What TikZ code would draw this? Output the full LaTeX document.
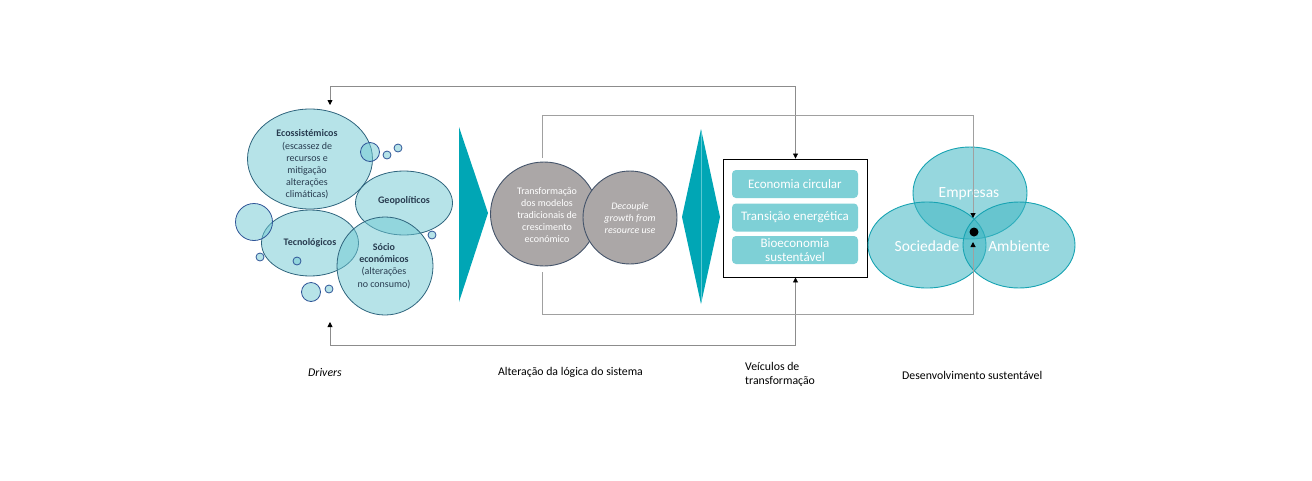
\documentclass[tikz,border=0pt]{standalone}
\usepackage{fontspec}
\setmainfont{Carlito}
\usetikzlibrary{shapes.geometric,arrows.meta}
\definecolor{tealA}{RGB}{0,166,181}
\definecolor{tealLine}{RGB}{90,200,210}
\definecolor{drvFill}{RGB}{110,200,210}
\definecolor{drvBorder}{RGB}{46,100,125}
\definecolor{smlBorder}{RGB}{47,85,151}
\definecolor{drvText}{RGB}{40,60,80}
\definecolor{grayFill}{RGB}{171,167,167}
\definecolor{grayBorder}{RGB}{68,84,106}
\definecolor{rectFill}{RGB}{126,208,214}
\definecolor{vennFill}{RGB}{64,182,195}
\definecolor{vennBorder}{RGB}{23,163,178}
\definecolor{lineGray}{RGB}{140,140,140}
\definecolor{lineGrayB}{RGB}{160,160,160}
\begin{document}
\begin{tikzpicture}[x=1pt,y=-1pt,
  drv/.style={ellipse,draw=drvBorder,line width=0.8pt,fill=drvFill,fill opacity=0.5,inner sep=0pt,outer sep=0pt},
  sml/.style={circle,draw=smlBorder,line width=0.8pt,fill=drvFill,fill opacity=0.5,inner sep=0pt,outer sep=0pt},
  drvtxt/.style={text=drvText,align=center,font=\fontsize{10}{12.2}\selectfont,inner sep=0pt},
  gcirc/.style={ellipse,draw=grayBorder,line width=0.9pt,fill=grayFill,inner sep=0pt,outer sep=0pt},
  gtxt/.style={text=white,align=center,font=\fontsize{10}{12}\selectfont,inner sep=0pt},
  vrect/.style={rectangle,rounded corners=4pt,fill=rectFill,minimum width=126pt,minimum height=28pt,inner sep=0pt,text=white,align=center,font=\fontsize{13}{14.5}\selectfont},
  venn/.style={ellipse,draw=vennBorder,line width=0.9pt,fill=vennFill,fill opacity=0.55,inner sep=0pt,outer sep=0pt},
  venntxt/.style={text=white,font=\fontsize{15.5}{17}\selectfont,inner sep=0pt},
  lbl/.style={text=black,font=\fontsize{11.8}{13.5}\selectfont,inner sep=0pt,align=left},
  conn/.style={draw=lineGray,line width=0.8pt},
  connB/.style={draw=lineGrayB,line width=1pt},
  tip/.style={-{Triangle[width=5pt,length=5pt,color=black]}},
  tips/.style={{Triangle[width=5pt,length=5pt,color=black]}-{Triangle[width=5pt,length=5pt,color=black]}}
]
\useasboundingbox (0,0) rectangle (1312,480);

% ---------- Drivers ----------
\node[drv,minimum width=125pt,minimum height=100pt] (eco) at (310,159) {};
\node[drv,minimum width=97pt,minimum height=64pt] (geo) at (404,203) {};
\node[drv,minimum width=97pt,minimum height=66pt] (tec) at (310,243) {};
\node[drv,minimum width=96pt,minimum height=98pt] (soc) at (385,266) {};
\node[sml,minimum size=37pt] (s0) at (254,222) {};
\node[sml,minimum size=19pt] (s1) at (370,152) {};
\node[sml,minimum size=8pt] (s2) at (387,155) {};
\node[sml,minimum size=8pt] (s3) at (398,148) {};
\node[sml,minimum size=8pt] (s4) at (432,235) {};
\node[sml,minimum size=8pt] (s5) at (260,257) {};
\node[sml,minimum size=8pt] (s6) at (297,261) {};
\node[sml,minimum size=19pt] (s7) at (311,292) {};
\node[sml,minimum size=8pt] (s8) at (329,289) {};

\node[drvtxt] (ecoT) at (307,164.5) {\textbf{Ecossistémicos}\\(escassez de\\recursos e\\mitigação\\alterações\\climáticas)};
\node[drvtxt] (geoT) at (404,201) {\textbf{Geopolíticos}};
\node[drvtxt] (tecT) at (310,243) {\textbf{Tecnológicos}};
\node[drvtxt] (socT) at (384,266) {\textbf{Sócio}\\\textbf{económicos}\\(alterações\\no consumo)};

% ---------- arrow shapes ----------
\fill[tealA] (459,127) -- (488,213) -- (459,302) -- cycle;
\fill[tealA] (682,217) -- (701,129) -- (720,217) -- (701,304) -- cycle;
\draw[tealLine,line width=0.5pt] (701,131) -- (701,302);

% ---------- gray circles ----------
\node[gcirc,minimum width=107pt,minimum height=104pt] (g1) at (544,214) {};
\node[gcirc,minimum width=94pt,minimum height=93pt] (g2) at (630,217.5) {};
\node[gtxt] (g1T) at (547,215) {Transformação\\dos modelos\\tradicionais de\\crescimento\\económico};
\node[gtxt] (g2T) at (630,218) {\textit{Decouple}\\\textit{growth from}\\\textit{resource use}};

% ---------- vehicles box ----------
\node[draw=black,line width=0.9pt,fill=white,minimum width=144pt,minimum height=118pt,inner sep=0pt] (box) at (795.5,218) {};
\node[vrect] (r1) at (795,184) {Economia circular};
\node[vrect] (r2) at (795,217.5) {Transição energética};
\node[vrect] (r3) at (795,250) {Bioeconomia\\sustentável};

% ---------- Venn ----------
\node[venn,minimum width=114pt,minimum height=92pt] (emp) at (970,193) {};
\node[venn,minimum width=118pt,minimum height=86pt] (soci) at (927,245) {};
\node[venn,minimum width=112pt,minimum height=86pt] (amb) at (1019,245) {};
\node[venntxt] (empT) at (969,194) {Empresas};
\node[venntxt] (sociT) at (927,246) {Sociedade};
\node[venntxt] (ambT) at (1019,246) {Ambiente};
\node[circle,fill=black,minimum size=9pt,inner sep=0pt] (dot) at (974,232) {};

% ---------- connectors ----------
\coordinate (ecoIn) at (330,105);
\coordinate (drvIn) at (330,322);
\coordinate (topY) at (0,86);
\coordinate (botY) at (0,345);
\coordinate (inTopY) at (0,115);
\coordinate (inBotY) at (0,314);
\coordinate (g1up) at (542,158);
\coordinate (g1dn) at (542,272);
\coordinate (dotUp) at (973,218);
\coordinate (dotDn) at (973,242);

\draw[conn,tips] (ecoIn) -- (ecoIn |- topY) -- (box.north |- topY) -- (box.north);
\draw[conn,tips] (drvIn) -- (drvIn |- botY) -- (box.south |- botY) -- (box.south);
\draw[connB,tip] (g1up) -- (g1up |- inTopY) -- (dotUp |- inTopY) -- (dotUp);
\draw[connB,tip] (g1dn) -- (g1dn |- inBotY) -- (dotDn |- inBotY) -- (dotDn);

% ---------- labels ----------
\node[lbl] (l1) at (325,372) {\textit{Drivers}};
\node[lbl] (l2) at (570.5,372) {Alteração da lógica do sistema};
\node[lbl,anchor=west] (l3) at (745,374.5) {Veículos de\\transformação};
\node[lbl,anchor=west] (l4) at (902,375) {Desenvolvimento sustentável};
\end{tikzpicture}
\end{document}
